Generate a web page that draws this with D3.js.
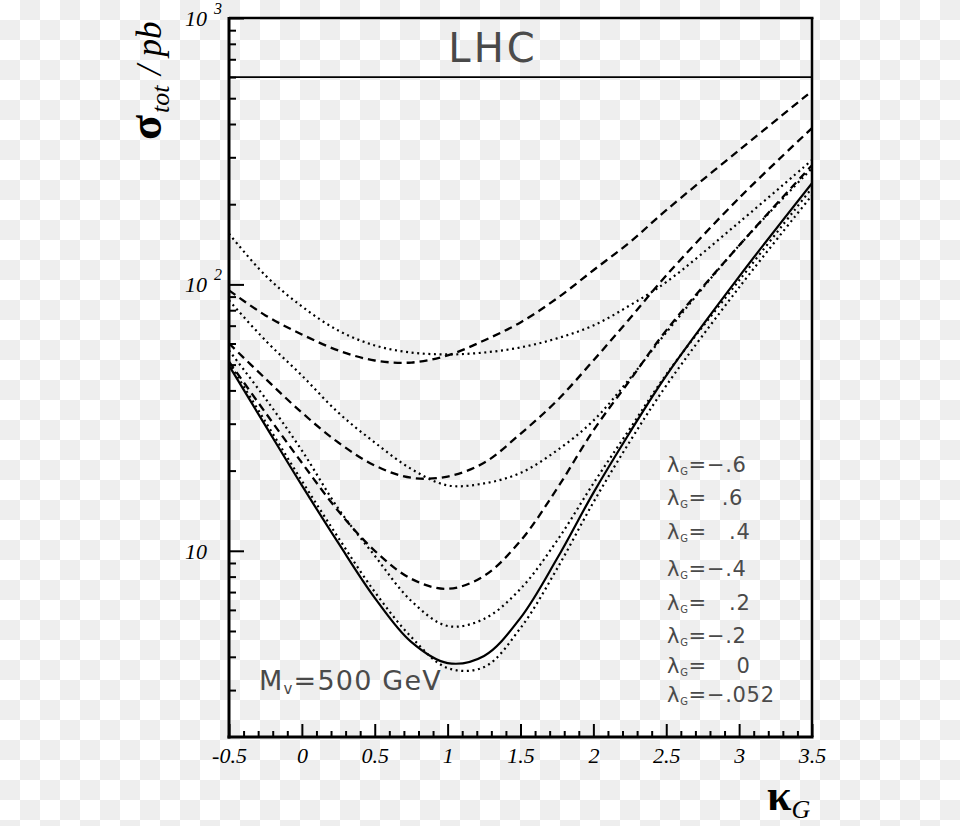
<!DOCTYPE html>
<html><head><meta charset="utf-8">
<script src="https://cdn.jsdelivr.net/npm/d3@7"></script>
<style>body{margin:0;background:#fff} svg{display:block}</style>
</head><body><svg id="c" width="960" height="826"></svg>
<script>
// ---------- data ----------
const kappa = [-0.5,-0.25,0,0.25,0.5,0.75,1,1.25,1.5,1.75,2,2.25,2.5,3,3.5];
const sigmaLm06   = [95,76.5,64.9,56.5,51.8,50.9,54.1,61.6,72.0,88.6,113,144,190,319,532];
const sigmaLp06   = [155,108,82.7,67.1,59.0,55.5,54.6,55.5,58.0,62.7,70.1,83.4,102,171,293];
const sigmaLp04   = [87.1,61.6,45.5,33.0,25.5,20.3,17.6,17.9,19.6,23.8,30.8,44.3,66.0,140,273];
const sigmaLm04   = [60.0,44.3,33.0,25.5,20.9,18.8,19.0,21.4,27.5,36.6,51.8,74.5,108,211,386];
const sigmaLp02   = [56.5,37.3,23.8,14.4,9.58,6.49,5.22,5.55,7.20,10.9,17.9,28.7,45.9,103.5,230];
const sigmaLm02   = [51.3,33.0,21.4,14.1,10.0,7.85,7.20,8.05,10.9,17.1,28.3,43.6,67.2,140,280];
const sigmaL0     = [50.9,30.5,18.3,11.2,7.01,4.75,3.63,3.66,5.13,8.55,15.2,25.7,41.7,97.4,216];
const sigmaLm0052 = [49.6,29.5,17.6,10.7,6.66,4.55,3.79,4.03,5.60,9.33,16.5,27.8,45.5,107,240];
const legendLabels = ["\u2212.6","  .6","   .4","\u2212.4","   .2","\u2212.2","    0","\u2212.052"];
const xTickLabels = ["-0.5","0","0.5","1","1.5","2","2.5","3","3.5"];
const yMajorTicks = [10,100,1000];
const yMajorExp = ["","2","3"];

const series = [
  {v:sigmaLm06, s:"dash"},
  {v:sigmaLp06, s:"dot"},
  {v:sigmaLp04, s:"dot"},
  {v:sigmaLm04, s:"dash"},
  {v:sigmaLp02, s:"dot"},
  {v:sigmaLm02, s:"dash"},
  {v:sigmaL0,   s:"dot"},
  {v:sigmaLm0052, s:"solid"}
];

// ---------- layout ----------
const W=960,H=826;
const L=229,R=812,T=18,B=737;
const svg=d3.select('#c');
const defs=svg.append('defs');
const pat=defs.append('pattern').attr('id','chk').attr('width',40).attr('height',40).attr('patternUnits','userSpaceOnUse');
pat.append('rect').attr('width',40).attr('height',40).attr('fill','#fff');
pat.append('rect').attr('x',20).attr('y',0).attr('width',20).attr('height',20).attr('fill','#eeeeee');
pat.append('rect').attr('x',0).attr('y',20).attr('width',20).attr('height',20).attr('fill','#eeeeee');
svg.append('rect').attr('width',W).attr('height',H).attr('fill','url(#chk)');
defs.append('clipPath').attr('id','clip').append('rect').attr('x',L).attr('y',T).attr('width',R-L).attr('height',B-T);

const x=d3.scaleLinear().domain([-0.5,3.5]).range([L,R]);
const y=d3.scaleLog().domain([2,1000]).range([B,T]);

// curves
const line=d3.line().x((d,i)=>x(kappa[i])).y(d=>y(d)).curve(d3.curveCatmullRom.alpha(0.5));
const gC=svg.append('g').attr('clip-path','url(#clip)');
series.forEach(s=>{
  const p=gC.append('path').attr('d',line(s.v)).attr('fill','none').attr('stroke','#000');
  if(s.s==='dash') p.attr('stroke-width',2.3).attr('stroke-dasharray','8,5');
  else if(s.s==='dot') p.attr('stroke-width',2.2).attr('stroke-dasharray','2,3.6');
  else p.attr('stroke-width',2.2);
});

// x ticks
const xMajor=d3.range(0,9).map(i=>-0.5+i*0.5);
const xMinor=d3.range(0,41).map(i=>-0.5+i*0.1).filter(v=>Math.abs(v*2-Math.round(v*2))>1e-6);
const gxm=svg.append('g').attr('transform',`translate(0,${B})`)
  .call(d3.axisBottom(x).tickValues(xMinor).tickSize(-6).tickSizeOuter(0).tickFormat(''));
const gx=svg.append('g').attr('transform',`translate(0,${B})`)
  .call(d3.axisBottom(x).tickValues(xMajor).tickSize(-13).tickSizeOuter(0).tickPadding(10)
    .tickFormat((d,i)=>xTickLabels[i]));
[gxm,gx].forEach(g=>{g.select('.domain').remove(); g.selectAll('line').attr('stroke','#000').attr('stroke-width',2);});
gx.selectAll('text').attr('font-family','"Liberation Serif", serif').attr('font-style','italic')
  .attr('font-size',22).attr('fill','#000');

// y ticks
const yMinor=[];
[1,10,100].forEach(dec=>{for(let k=2;k<=9;k++){const v=k*dec; if(v>2) yMinor.push(v);}});
const gym=svg.append('g').attr('transform',`translate(${L},0)`)
  .call(d3.axisLeft(y).tickValues(yMinor).tickSize(-7).tickSizeOuter(0).tickFormat(''));
const gy=svg.append('g').attr('transform',`translate(${L},0)`)
  .call(d3.axisLeft(y).tickValues(yMajorTicks).tickSize(-15).tickSizeOuter(0).tickFormat(''));
[gym,gy].forEach(g=>{g.select('.domain').remove(); g.selectAll('line').attr('stroke','#000').attr('stroke-width',2);});
yMajorTicks.forEach((v,i)=>{
  svg.append('text').attr('x',207).attr('y',y(v)+8).attr('text-anchor','end')
    .attr('font-family','"Liberation Serif", serif').attr('font-style','italic').attr('font-size',22).text('10');
  if(yMajorExp[i]) svg.append('text').attr('x',214).attr('y',y(v)-4)
    .attr('font-family','"Liberation Serif", serif').attr('font-style','italic').attr('font-size',16).text(yMajorExp[i]);
});

// frame
svg.append('line').attr('x1',L).attr('x2',L).attr('y1',T-1).attr('y2',B+1.5).attr('stroke','#000').attr('stroke-width',3);
svg.append('line').attr('x1',L-1.5).attr('x2',R+1.5).attr('y1',B).attr('y2',B).attr('stroke','#000').attr('stroke-width',3);
svg.append('line').attr('x1',L).attr('x2',R+1.5).attr('y1',T).attr('y2',T).attr('stroke','#000').attr('stroke-width',2.5);
svg.append('line').attr('x1',R).attr('x2',R).attr('y1',T).attr('y2',B).attr('stroke','#000').attr('stroke-width',2.5);
svg.append('line').attr('x1',L).attr('x2',R).attr('y1',y(600)).attr('y2',y(600)).attr('stroke','#000').attr('stroke-width',1.8);

// LHC title
svg.append('text').attr('x',493).attr('y',62).attr('text-anchor','middle')
  .attr('font-family','"DejaVu Sans", sans-serif').attr('font-size',40).attr('letter-spacing',3)
  .attr('fill','#4a4a4a').text('LHC');

// legend text
const legendBase=[472,505,539,576,610,643,673,702];
legendLabels.forEach((lab,i)=>{
  const t=svg.append('text').attr('x',667).attr('y',legendBase[i]).attr('fill','#4a4a4a')
    .attr('font-family','"DejaVu Sans", sans-serif').attr('font-size',21).attr('letter-spacing',0.7).style('white-space','pre');
  t.append('tspan').text('\u03bb');
  t.append('tspan').attr('font-size',10).attr('dy',3).text('G');
  t.append('tspan').attr('dy',-3).text('=');
  t.append('tspan').text(lab);
});

// Mv label
const mv=svg.append('text').attr('x',259).attr('y',690).attr('fill','#4a4a4a')
  .attr('font-family','"DejaVu Sans", sans-serif').attr('font-size',27).attr('letter-spacing',1.2);
mv.append('tspan').text('M');
mv.append('tspan').attr('font-size',15).attr('dy',4).text('v');
mv.append('tspan').attr('dy',-4).text('=500 GeV');

// y axis title (rotated)
const yt=svg.append('text').attr('transform','translate(161,139) rotate(-90)')
  .attr('font-family','"Liberation Serif", serif').attr('fill','#000');
yt.append('tspan').attr('x',-1).attr('font-size',46).attr('font-weight','bold').text('\u03c3');
yt.append('tspan').attr('x',26).attr('dy',8).attr('font-size',26).attr('font-style','italic').text('tot');
yt.append('tspan').attr('x',64).attr('dy',-8).attr('font-size',35).attr('font-style','italic').text('/ pb');

// x axis title
const xt=svg.append('text').attr('x',767).attr('y',810)
  .attr('font-family','"Liberation Serif", serif').attr('fill','#000');
xt.append('tspan').attr('font-size',44).attr('font-weight','bold').text('\u03ba');
xt.append('tspan').attr('font-size',26).attr('font-style','italic').attr('dy',8).text('G');
</script></body></html>
